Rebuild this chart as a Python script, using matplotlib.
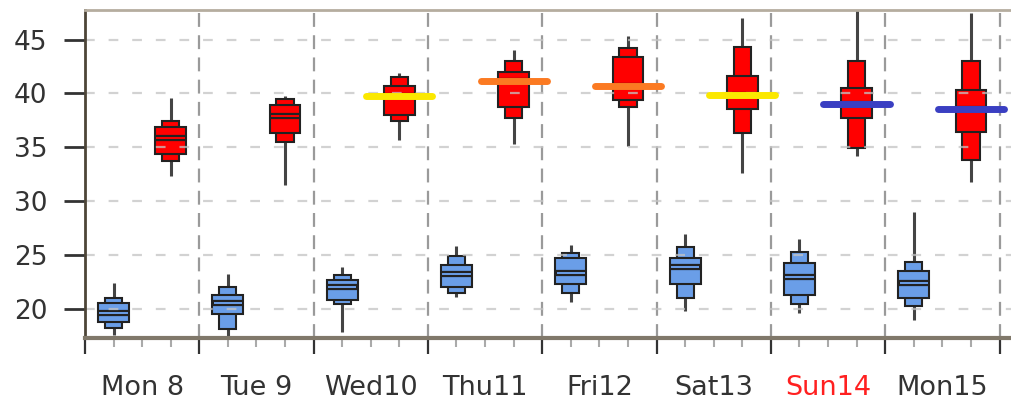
import matplotlib.pyplot as plt
import numpy as np

plt.rcParams['font.family'] = ['DejaVu Sans']
plt.rcParams['lines.scale_dashes'] = False

# day labels
days = ['Mon 8', 'Tue 9', 'Wed10', 'Thu11', 'Fri12', 'Sat13', 'Sun14', 'Mon15']
day_colors = ['#333333'] * 6 + ['#ff2020', '#333333']

# night minimum temps (blue boxes, 06h)
lo_min = [17.6, 17.5, 17.8, 21.05, 20.6, 19.75, 19.6, 19.0]
lo_p10 = [18.2, 18.1, 20.4, 21.45, 21.5, 21.0, 20.4, 20.3]
lo_p25 = [18.8, 19.55, 20.85, 22.0, 22.3, 22.3, 21.3, 21.0]
lo_med = [19.65, 20.5, 22.0, 23.2, 23.3, 23.85, 22.95, 22.4]
lo_p75 = [20.5, 21.3, 22.7, 24.1, 24.7, 24.7, 24.25, 23.5]
lo_p90 = [21.0, 22.0, 23.15, 24.9, 25.15, 25.7, 25.3, 24.3]
lo_max = [22.4, 23.25, 23.9, 25.85, 25.95, 26.9, 26.45, 28.95]

# day maximum temps (red boxes, 18h)
hi_min = [32.35, 31.5, 35.7, 35.3, 35.1, 32.6, 34.15, 31.8]
hi_p10 = [33.75, 35.45, 37.4, 37.7, 38.7, 36.3, 34.9, 33.85]
hi_p25 = [34.35, 36.3, 38.0, 38.7, 39.4, 38.55, 37.7, 36.45]
hi_med = [35.85, 37.9, 39.8, 41.2, 40.7, 39.9, 39.0, 38.6]
hi_p75 = [36.9, 38.95, 40.7, 42.0, 43.4, 41.6, 40.5, 40.3]
hi_p90 = [37.45, 39.5, 41.5, 43.05, 44.2, 44.35, 43.05, 43.05]
hi_max = [39.6, 39.8, 41.9, 44.0, 45.35, 47.0, 48.5, 47.45]

# coloured bars on top of the max boxes
fc_day = [2, 3, 4, 5, 6, 7]
fc_val = [39.8, 41.2, 40.7, 39.9, 39.0, 38.6]
fc_col = ['#fbe800', '#fb7a22', '#fb7a22', '#fbe800', '#3a3fc2', '#3a3fc2']

yticks = [20, 25, 30, 35, 40, 45]

fig = plt.figure(figsize=(10.11, 4.12), dpi=100)
ax = fig.add_axes([0.084, 0.18, 0.916, 0.796])

x = np.arange(len(days))


def boxes(xpos, vmin, p10, p25, med, p75, p90, vmax, color):
    vmin, p10, p25, med, p75, p90, vmax = map(np.array, (vmin, p10, p25, med, p75, p90, vmax))
    ax.vlines(xpos, vmin, vmax, color='#444444', lw=2.2, zorder=1.5)
    ax.bar(xpos, p90 - p10, bottom=p10, width=0.15, color=color,
           edgecolor='#222222', lw=1.5, zorder=2)
    ax.bar(xpos, p75 - p25, bottom=p25, width=0.27, color=color,
           edgecolor='#222222', lw=1.5, zorder=2.1)
    ax.hlines(med, xpos - 0.135, xpos + 0.135, color='#222222', lw=4.5, zorder=2.2)
    ax.hlines(med, xpos - 0.125, xpos + 0.125, color=color, lw=1.4, zorder=2.3)


boxes(x + 0.25, lo_min, lo_p10, lo_p25, lo_med, lo_p75, lo_p90, lo_max, '#6a9ee8')
boxes(x + 0.75, hi_min, hi_p10, hi_p25, hi_med, hi_p75, hi_p90, hi_max, '#ff0000')

# horizontal grid drawn over the boxes, light
for yv in yticks:
    ax.axhline(yv, color='#c4c4c4', lw=1.6, ls=(0, (7, 10)), alpha=0.75, zorder=2.5)
# day separators
for d in range(1, len(days) + 1):
    ax.axvline(d, color='#9a9a9a', lw=1.6, ls=(0, (10, 6)), zorder=1)

fx = np.array(fc_day) + 0.75
lc = ax.hlines(fc_val, fx - 0.29, fx + 0.29, colors=fc_col, lw=5, zorder=4)
lc.set_capstyle('round')

ax.set_xlim(0, 8.1)
ax.set_ylim(17.3, 47.76)

ax.set_yticks(yticks)
ax.tick_params(axis='y', length=15, width=2, color='#333333', labelsize=19,
               labelcolor='#333333', pad=12)

ax.set_xticks(range(len(days) + 1))
ax.set_xticklabels([])
ax.tick_params(axis='x', which='major', length=11.5, width=1.6, color='#333333')
minor = [d + q for d in range(len(days)) for q in (0.25, 0.5, 0.75)]
ax.set_xticks(minor, minor=True)
labs = []
for d in range(len(days)):
    labs += ['', days[d], '']
ax.set_xticklabels(labs, minor=True)
ax.tick_params(axis='x', which='minor', length=6.5, width=1.5, color='#aaaaaa',
               labelsize=19.5, pad=20)
for t, lab in zip(ax.xaxis.get_minorticklabels(), labs):
    if lab:
        t.set_color(day_colors[days.index(lab)])

ax.spines['right'].set_visible(False)
ax.spines['left'].set_color('#4d4538')
ax.spines['left'].set_linewidth(2)
ax.spines['top'].set_color('#b5ad9f')
ax.spines['top'].set_linewidth(2)
ax.spines['bottom'].set_color('#80786a')
ax.spines['bottom'].set_linewidth(3)

fig.savefig('out.png', dpi=100)
